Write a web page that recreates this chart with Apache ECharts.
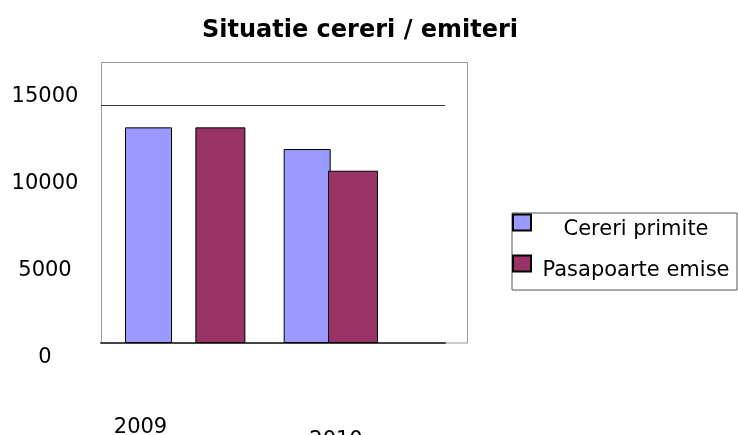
<!DOCTYPE html>
<html>
<head>
<meta charset="utf-8">
<script src="https://cdn.jsdelivr.net/npm/echarts@6/dist/echarts.min.js"></script>
<style>html,body{margin:0;padding:0;background:#fff}#c{width:738px;height:435px}</style>
</head>
<body>
<div id="c"></div>
<script>
const categories = ['2009', '2010'];
const seriesNames = ['Cereri primite', 'Pasapoarte emise'];
const cereriPrimite = [13630, 12260];
const pasapoarteEmise = [13630, 10890];
const yMax = 15000;
const yLabelStep = 5000;

const FONT = 'DejaVu Sans';
const chart = echarts.init(document.getElementById('c'), null, {renderer: 'canvas'});

const hiddenX = (g) => ({type: 'category', gridIndex: g, show: false, data: categories});
const hiddenY = (g) => ({type: 'value', gridIndex: g, show: false, min: 0, max: yMax});
const G = (o) => Object.assign({outerBoundsMode: 'none', containLabel: false}, o);

chart.setOption({
  animation: false,
  backgroundColor: '#fff',
  title: {
    text: 'Situatie cereri / emiteri',
    left: 197, top: 14,
    textStyle: {fontFamily: FONT, fontWeight: 'bold', fontSize: 24, color: '#000'}
  },
  legend: {
    orient: 'vertical',
    left: 512, top: 205, padding: 0,
    itemWidth: 18, itemHeight: 16, itemGap: 6,
    icon: 'rect',
    data: seriesNames,
    formatter: '{a|{name}}',
    textStyle: {
      fontFamily: FONT, fontSize: 21, color: '#000',
      rich: {a: {fontFamily: FONT, fontSize: 21, width: 200, align: 'center', lineHeight: 24, padding: [14, 0, 0, 0]}}
    }
  },
  grid: [
    G({left: 101.5, top: 62.5, width: 366, height: 280.5, show: true, borderColor: '#999', borderWidth: 1, backgroundColor: 'transparent'}),
    G({left: 101, right: 293, top: 105.7, bottom: 92}),
    G({left: 101, top: 96.7, bottom: 77, width: 10}),
    G({left: 69.15, right: 351.45, top: 105.7, bottom: 92}),
    G({left: 154.05, right: 318.65, top: 105.7, bottom: 92}),
    G({left: 512, top: 213, width: 225, height: 77, show: true, borderColor: '#555', borderWidth: 1, backgroundColor: 'transparent'})
  ],
  xAxis: [
    hiddenX(0),
    {
      type: 'category', gridIndex: 1, data: categories,
      axisLine: {show: true, lineStyle: {color: '#444', width: 2}},
      axisTick: {show: false},
      axisLabel: {
        margin: 74,
        formatter: (v, i) => i === 0 ? '{a|' + v + '}' : '{b|' + v + '}',
        rich: {
          a: {fontFamily: FONT, fontSize: 21, color: '#000', padding: [0, 93, 0, 0]},
          b: {fontFamily: FONT, fontSize: 21, color: '#000', padding: [13, 46, 0, 0]}
        }
      }
    },
    hiddenX(2),
    hiddenX(3),
    hiddenX(4),
    hiddenX(5)
  ],
  yAxis: [
    hiddenY(0),
    {
      type: 'value', gridIndex: 1, min: 0, max: yMax, interval: yMax,
      axisLine: {show: false}, axisTick: {show: false}, axisLabel: {show: false},
      splitLine: {show: true, lineStyle: {color: '#333', width: 1}}
    },
    {
      type: 'value', gridIndex: 2, min: 0, max: yMax, interval: yLabelStep,
      axisLine: {show: false}, axisTick: {show: false}, splitLine: {show: false},
      axisLabel: {margin: 56, align: 'center', fontFamily: FONT, fontSize: 21, color: '#000', formatter: (v) => String(v)}
    },
    hiddenY(3),
    hiddenY(4),
    hiddenY(5)
  ],
  series: [
    {
      name: seriesNames[0], type: 'bar', xAxisIndex: 3, yAxisIndex: 3,
      data: cereriPrimite, barWidth: 47,
      itemStyle: {color: '#9999FF', borderColor: '#000', borderWidth: 1}
    },
    {
      name: seriesNames[1], type: 'bar', xAxisIndex: 4, yAxisIndex: 4,
      data: pasapoarteEmise, barWidth: 50,
      itemStyle: {color: '#993366', borderColor: '#000', borderWidth: 1}
    }
  ]
});
</script>
</body>
</html>
